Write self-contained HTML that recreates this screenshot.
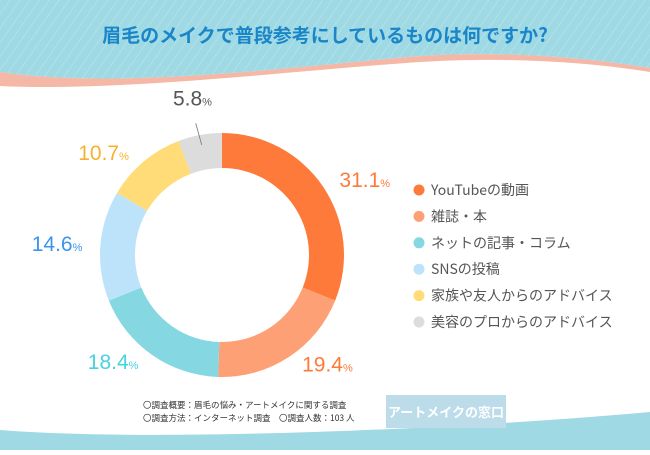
<!DOCTYPE html>
<html><head><meta charset="utf-8"><style>
body{margin:0;width:650px;height:450px;overflow:hidden;background:#fff;font-family:"Liberation Sans","Noto Sans CJK JP",sans-serif}
</style></head><body>
<svg width="650" height="450" xmlns="http://www.w3.org/2000/svg">
<defs><pattern id="st" width="8" height="8" patternUnits="userSpaceOnUse" patternTransform="rotate(35)"><rect width="8" height="8" fill="#9fd9e4"/><line x1="0" y1="0" x2="0" y2="8" stroke="#b5e3ec" stroke-width="1.5"/></pattern></defs>
<g>
<path d="M0 72 C120 90 300 66 420 56 C520 50 600 60 650 68 L650 0 L0 0Z" fill="url(#st)"/>
<path d="M0 72 C120 90 300 66 420 56 C520 50 600 60 650 68 L650 72 C600 64 520 56 420 62 C300 70 120 92 0 86Z" fill="#f5b7a6"/>
<text x="325" y="42" text-anchor="middle" font-size="19" font-weight="bold" fill="#1a86c8" font-family="'Noto Sans CJK JP',sans-serif">眉毛のメイクで普段参考にしているものは何ですか?</text>
</g>
<path d="M0 430 C150 442 450 430 650 412 L650 450 L0 450Z" fill="#9fd9e4"/>
<g id="donut"></g>
<g id="legend"></g>
<g font-size="8.5" fill="#333" font-family="'Noto Sans CJK JP',sans-serif">
<text x="143" y="408">〇調査概要：眉毛の悩み・アートメイクに関する調査</text>
<text x="143" y="421">〇調査方法：インターネット調査　〇調査人数：103 人</text>
</g>
<rect x="386" y="395" width="120" height="33" fill="#bcdcea"/>
<text x="446" y="417" text-anchor="middle" font-size="13" font-weight="bold" fill="#fff" font-family="'Noto Sans CJK JP',sans-serif">アートメイクの窓口</text>
</svg>
<script>
const categories=["YouTubeの動画","雑誌・本","ネットの記事・コラム","SNSの投稿","家族や友人からのアドバイス","美容のプロからのアドバイス"];
const values=[31.1,19.4,18.4,14.6,10.7,5.8];
const colors=["#fe7a3b","#fea075","#85d8e1","#bde3fb","#ffdc78","#dcdcdc"];
const labelColors=["#fe7a3b","#fe7a3b","#46d3e0","#3a94f0","#f7b12e","#555"];
const NS="http://www.w3.org/2000/svg";
const cx=222,cy=255,R=122,r=87;
const total=values.reduce((a,b)=>a+b,0);
const donut=document.getElementById('donut');
let a0=0;
function pt(a,rad){return [cx+rad*Math.sin(a),cy-rad*Math.cos(a)];}
values.forEach((v,i)=>{
 const a1=a0+v/total*2*Math.PI;
 const [x1,y1]=pt(a0,R),[x2,y2]=pt(a1,R),[x3,y3]=pt(a1,r),[x4,y4]=pt(a0,r);
 const lg=(a1-a0)>Math.PI?1:0;
 const p=document.createElementNS(NS,'path');
 p.setAttribute('d',`M${x1} ${y1}A${R} ${R} 0 ${lg} 1 ${x2} ${y2}L${x3} ${y3}A${r} ${r} 0 ${lg} 0 ${x4} ${y4}Z`);
 p.setAttribute('fill',colors[i]);
 
 
 donut.appendChild(p);
 const mid=(a0+a1)/2;
 const t=document.createElementNS(NS,'text');
 if(i==5){
  const [sx,sy]=pt(mid,R-10),[ex,ey]=pt(mid,R+12);
  const l=document.createElementNS(NS,'line');
  l.setAttribute('x1',sx);l.setAttribute('y1',sy);l.setAttribute('x2',ex-2);l.setAttribute('y2',ey);
  l.setAttribute('stroke','#777');l.setAttribute('stroke-width','0.8');
  
  
  donut.appendChild(l);
  const [lx,ly]=pt(mid,R+30);
  t.setAttribute('x',lx-2);t.setAttribute('y',ly);
  t.setAttribute('text-anchor','middle');
 } else {
  const [lx,ly]=pt(mid,R+10);
  const right=Math.sin(mid)>0;
  t.setAttribute('x',right?lx+8:lx-8);t.setAttribute('y',ly+6);
  t.setAttribute('text-anchor',right?'start':'end');
 }
 t.setAttribute('fill',labelColors[i]);
 t.setAttribute('font-size','21');
 
 
 t.innerHTML=v.toFixed(1)+'<tspan font-size="11">%</tspan>';
 donut.appendChild(t);
 a0=a1;
});
const lg=document.getElementById('legend');
categories.forEach((c,i)=>{
 const y=190+i*26.4;
 const d=document.createElementNS(NS,'circle');
 d.setAttribute('cx',419);d.setAttribute('cy',y);d.setAttribute('r',5.5);d.setAttribute('fill',colors[i]);
 
 
 lg.appendChild(d);
 const t=document.createElementNS(NS,'text');
 t.setAttribute('x',431);t.setAttribute('y',y+5);t.setAttribute('font-size','14');t.setAttribute('fill','#555');
 t.setAttribute('font-family',"'Noto Sans CJK JP',sans-serif");
 
 
 t.textContent=c;
 lg.appendChild(t);
});
</script>
</body></html>
